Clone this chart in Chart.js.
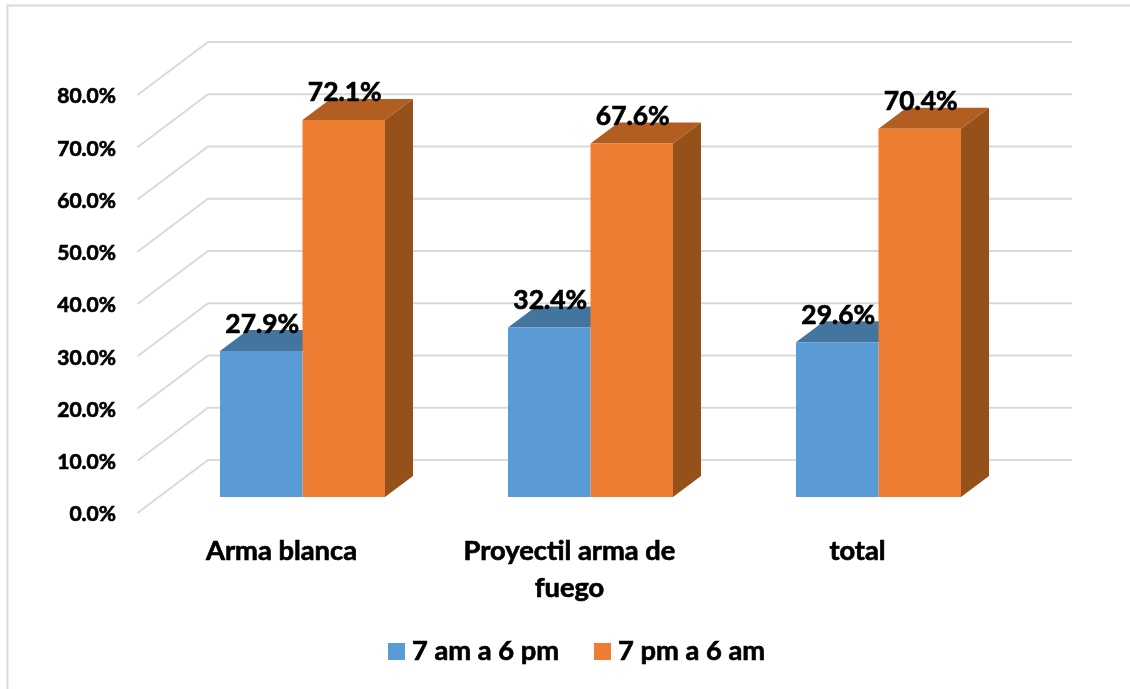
<!DOCTYPE html>
<html>
<head>
<meta charset="utf-8">
<script src="https://cdn.jsdelivr.net/npm/chart.js@4/dist/chart.umd.min.js"></script>
<style>
  body { margin: 0; background: #fff; }
  canvas { display: block; }
</style>
</head>
<body>
<canvas id="chart" width="1130" height="689"></canvas>
<script>
var categories = ['Arma blanca', ['Proyectil arma de', 'fuego'], 'total'];
var seriesNames = ['7 am a 6 pm', '7 pm a 6 am'];
var dayValues = [27.9, 32.4, 29.6];
var nightValues = [72.1, 67.6, 70.4];

var FONT = 'Lato, sans-serif';
var GRID = '#d9d9d9';
var BLUE = '#5b9bd5', BLUE_TOP = '#44759f';
var ORANGE = '#ed7d31', ORANGE_TOP = '#b25e23', ORANGE_SIDE = '#965019';
var HEAVY = 0.7; // stroke on top of the text, lato bold alone is too light

// depth of the fake 3d bars and of the back wall, in px
var BAR_DX = 28, BAR_DY = 21;

function poly(ctx, pts, color) {
  ctx.fillStyle = color;
  ctx.beginPath();
  pts.forEach(function (p, i) { i ? ctx.lineTo(p[0], p[1]) : ctx.moveTo(p[0], p[1]); });
  ctx.closePath();
  ctx.fill();
}

function heavyText(ctx, str, x, y) {
  ctx.fillText(str, x, y);
  ctx.strokeText(str, x, y);
}

var frame3d = {
  id: 'frame3d',
  beforeDatasetsDraw: function (chart) {
    var ctx = chart.ctx, y = chart.scales.y, area = chart.chartArea;
    ctx.save();

    // outer frame, only left and top show
    ctx.strokeStyle = GRID;
    ctx.lineWidth = 2;
    ctx.beginPath();
    ctx.moveTo(7.5, 689);
    ctx.lineTo(7.5, 5.5);
    ctx.lineTo(1130, 5.5);
    ctx.stroke();

    // floor diagonals and back wall lines
    y.ticks.forEach(function (t) {
      var py = y.getPixelForValue(t.value);
      ctx.beginPath();
      ctx.moveTo(area.left - 21, py);
      ctx.lineTo(area.left + 49.5, py - 53);
      ctx.lineTo(area.right + 49.5, py - 53);
      ctx.stroke();
    });

    // tops and sides, the front faces get painted over them by chart.js
    chart.getDatasetMeta(0).data.forEach(function (b) {
      var l = b.x - b.width / 2, r = b.x + b.width / 2;
      poly(ctx, [[l, b.y], [l + BAR_DX, b.y - BAR_DY], [r + BAR_DX, b.y - BAR_DY], [r, b.y]], BLUE_TOP);
    });
    chart.getDatasetMeta(1).data.forEach(function (b) {
      var l = b.x - b.width / 2, r = b.x + b.width / 2;
      poly(ctx, [[l, b.y], [l + BAR_DX, b.y - BAR_DY], [r + BAR_DX, b.y - BAR_DY], [r, b.y]], ORANGE_TOP);
      poly(ctx, [[r, b.y], [r + BAR_DX, b.y - BAR_DY], [r + BAR_DX, b.base - BAR_DY], [r, b.base]], ORANGE_SIDE);
    });
    ctx.restore();
  },
  afterDatasetsDraw: function (chart) {
    var ctx = chart.ctx;
    ctx.save();
    ctx.fillStyle = '#000';
    ctx.strokeStyle = '#000';
    ctx.lineWidth = HEAVY;
    ctx.textAlign = 'center';
    ctx.textBaseline = 'middle';
    ctx.font = 'bold 26.4px ' + FONT;
    chart.data.datasets.forEach(function (ds, i) {
      chart.getDatasetMeta(i).data.forEach(function (b, j) {
        heavyText(ctx, ds.data[j].toFixed(1) + '%', b.x + 1, b.y - 27);
      });
    });

    // legend, the built in one keeps too wide a gap after the swatch
    ctx.textAlign = 'left';
    ctx.font = 'bold 27.3px ' + FONT;
    var lx = [388, 594];
    chart.data.datasets.forEach(function (ds, i) {
      ctx.fillStyle = ds.backgroundColor;
      ctx.fillRect(lx[i], 643, 17, 17);
      ctx.fillStyle = '#000';
      heavyText(ctx, ds.label, lx[i] + 24, 651);
    });
    ctx.restore();
  }
};

new Chart(document.getElementById('chart'), {
  type: 'bar',
  data: {
    labels: categories,
    datasets: [
      { label: seriesNames[0], data: dayValues, backgroundColor: BLUE, yAxisID: 'yBars' },
      { label: seriesNames[1], data: nightValues, backgroundColor: ORANGE, yAxisID: 'yBars' }
    ]
  },
  plugins: [frame3d],
  options: {
    responsive: false,
    animation: false,
    layout: { padding: { top: 95, right: 107.5, bottom: 0, left: 0 } },
    datasets: { bar: { categoryPercentage: 0.573, barPercentage: 1 } },
    plugins: { legend: { display: false }, tooltip: { enabled: false } },
    scales: {
      x: {
        grid: { display: false },
        border: { display: false },
        ticks: {
          color: '#000',
          padding: 11,
          labelOffset: -21,
          maxRotation: 0,
          textStrokeColor: '#000',
          textStrokeWidth: HEAVY,
          font: { family: FONT, size: 27.3, weight: 'bold', lineHeight: 1.37 }
        },
        afterFit: function (axis) { axis.height = 176; }
      },
      y: {
        min: 0,
        max: 80,
        grid: { display: false, drawTicks: false },
        border: { display: false },
        ticks: {
          stepSize: 10,
          color: '#000',
          padding: 42.5,
          labelOffset: 1.5,
          textStrokeColor: '#000',
          textStrokeWidth: HEAVY,
          font: { family: FONT, size: 21, weight: 'bold' },
          callback: function (v) { return v.toFixed(1) + '%'; }
        },
        afterFit: function (axis) { axis.width = 158.5; }
      },
      // bars stand 16px up from the front edge, so they get their own range
      yBars: { display: false, min: -3.06, max: 76.86 }
    }
  }
});
</script>
</body>
</html>
